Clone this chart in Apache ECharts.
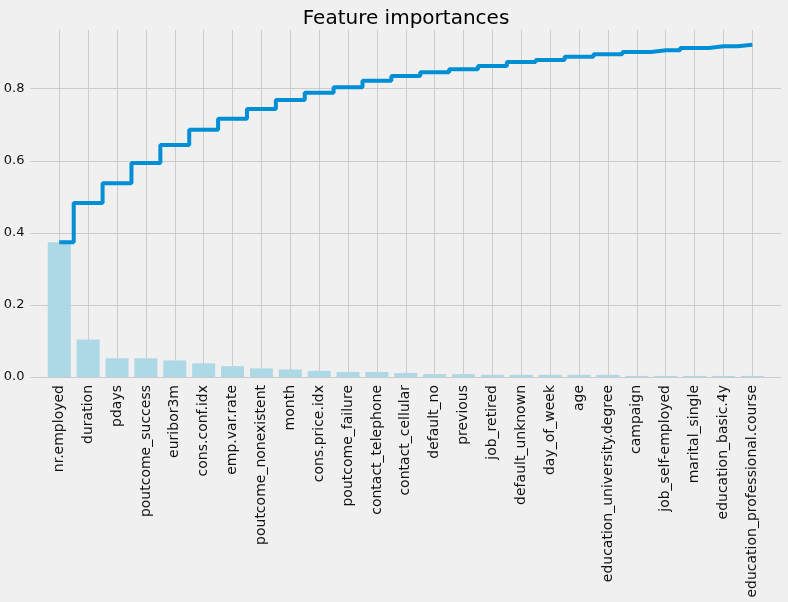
<!DOCTYPE html>
<html>
<head>
<meta charset="utf-8">
<script src="https://cdn.jsdelivr.net/npm/echarts@6/dist/echarts.min.js"></script>
<style>
  html, body { margin: 0; padding: 0; background: #f0f0f0; }
  #chart { width: 788px; height: 602px; }
</style>
</head>
<body>
<div id="chart"></div>
<script>
var features = ['nr.employed', 'duration', 'pdays', 'poutcome_success', 'euribor3m',
    'cons.conf.idx', 'emp.var.rate', 'poutcome_nonexistent', 'month', 'cons.price.idx',
    'poutcome_failure', 'contact_telephone', 'contact_cellular', 'default_no', 'previous',
    'job_retired', 'default_unknown', 'day_of_week', 'age', 'education_university.degree',
    'campaign', 'job_self-employed', 'marital_single', 'education_basic.4y',
    'education_professional.course'];

// bar heights
var importances = [0.374, 0.104, 0.052, 0.052, 0.046, 0.038, 0.030, 0.024, 0.021, 0.017,
    0.014, 0.014, 0.011, 0.008, 0.008, 0.006, 0.006, 0.006, 0.006, 0.006,
    0.003, 0.003, 0.003, 0.003, 0.003];

// step line levels
var cumulative = [0.374, 0.483, 0.538, 0.594, 0.644, 0.686, 0.717, 0.744, 0.769, 0.789,
    0.804, 0.822, 0.835, 0.846, 0.854, 0.863, 0.874, 0.880, 0.889, 0.896,
    0.902, 0.907, 0.913, 0.918, 0.922];

var yTicks = [0, 0.2, 0.4, 0.6, 0.8];

var chart;

init();

function init() {
    var dom = document.getElementById('chart');
    chart = echarts.init(dom, null, { renderer: 'canvas' });
    chart.setOption(buildOption());
}

function buildOption() {
    var grey = '#cbcbcb';
    // first and last vertical lines sit on the plot edges, matplotlib has none there
    var xLineColors = [];
    for (var i = 0; i < features.length + 2; i++) {
        xLineColors.push(i == 0 || i == features.length + 1 ? 'rgba(0,0,0,0)' : grey);
    }
    var yLineColors = yTicks.map(function () { return grey; });
    yLineColors.push('rgba(0,0,0,0)');

    return {
        backgroundColor: '#f0f0f0',
        textStyle: { fontFamily: 'DejaVu Sans' },
        animation: false,
        title: {
            text: 'Feature importances',
            left: 401,
            top: 4,
            textAlign: 'center',
            textStyle: { fontSize: 20, fontWeight: 'normal', color: '#000', fontFamily: 'DejaVu Sans' }
        },
        grid: { left: 30.4, right: 6.8, top: 30, bottom: 225 },
        xAxis: {
            type: 'value',
            min: -1,
            max: features.length,
            interval: 1,
            axisLine: { show: false },
            axisTick: { show: false },
            splitLine: { show: true, lineStyle: { color: xLineColors, width: 1 } },
            axisLabel: {
                rotate: 90,
                margin: 8,
                fontSize: 14,
                color: '#111',
                fontFamily: 'DejaVu Sans',
                showMinLabel: false,
                showMaxLabel: false,
                formatter: function (v) {
                    var i = Math.round(v);
                    if (Math.abs(v - i) > 1e-6 || i < 0 || i >= features.length) return '';
                    return features[i];
                }
            }
        },
        yAxis: {
            type: 'value',
            min: 0,
            max: 0.963,
            interval: 0.2,
            axisLine: { show: false },
            axisTick: { show: false },
            splitLine: { show: true, lineStyle: { color: yLineColors, width: 1 } },
            axisLabel: {
                margin: 6,
                fontSize: 13,
                color: '#111',
                fontFamily: 'DejaVu Sans',
                showMaxLabel: false,
                formatter: function (v) { return v.toFixed(1); }
            }
        },
        series: [
            {
                type: 'bar',
                barWidth: 23,
                itemStyle: { color: '#add8e6' },
                data: importances.map(function (v, i) { return [i, v]; }),
                z: 2
            },
            {
                type: 'line',
                step: 'middle',
                showSymbol: false,
                lineStyle: { color: '#008fd5', width: 4 },
                data: cumulative.map(function (v, i) { return [i, v]; }),
                z: 3
            }
        ]
    };
}
</script>
</body>
</html>
